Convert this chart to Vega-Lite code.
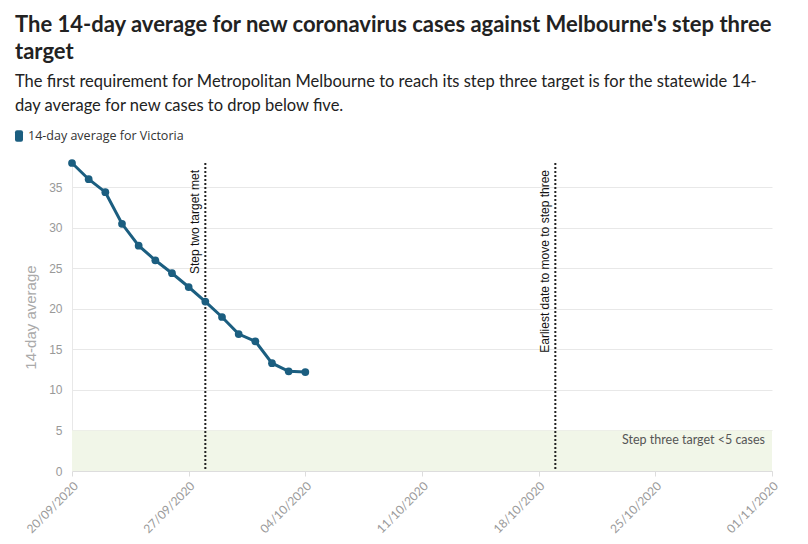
{
  "$schema": "https://vega.github.io/schema/vega-lite/v6.json",
  "width": 700,
  "height": 308,
  "autosize": {"type": "none"},
  "padding": {"left": 72, "top": 163, "right": 36, "bottom": 73},
  "background": "white",
  "config": {"view": {"stroke": null}},
  "title": {
    "text": ["The 14-day average for new coronavirus cases against Melbourne's step three", "target"],
    "subtitle": ["The first requirement for Metropolitan Melbourne to reach its step three target is for the statewide 14-", "day average for new cases to drop below five."],
    "anchor": "start",
    "frame": "group",
    "dx": -57,
    "font": "Lato",
    "fontSize": 22,
    "fontWeight": "bold",
    "color": "#222222",
    "lineHeight": 27,
    "subtitleFont": "Lato",
    "subtitleFontSize": 16.5,
    "subtitleColor": "#222222",
    "subtitleLineHeight": 23.5,
    "subtitlePadding": 10,
    "offset": 14
  },
  "datasets": {
    "series": [
      {"date": "2020-09-20", "value": 38.0, "series": "14-day average for Victoria"},
      {"date": "2020-09-21", "value": 36.0, "series": "14-day average for Victoria"},
      {"date": "2020-09-22", "value": 34.4, "series": "14-day average for Victoria"},
      {"date": "2020-09-23", "value": 30.5, "series": "14-day average for Victoria"},
      {"date": "2020-09-24", "value": 27.8, "series": "14-day average for Victoria"},
      {"date": "2020-09-25", "value": 26.0, "series": "14-day average for Victoria"},
      {"date": "2020-09-26", "value": 24.4, "series": "14-day average for Victoria"},
      {"date": "2020-09-27", "value": 22.7, "series": "14-day average for Victoria"},
      {"date": "2020-09-28", "value": 20.9, "series": "14-day average for Victoria"},
      {"date": "2020-09-29", "value": 19.0, "series": "14-day average for Victoria"},
      {"date": "2020-09-30", "value": 16.9, "series": "14-day average for Victoria"},
      {"date": "2020-10-01", "value": 16.0, "series": "14-day average for Victoria"},
      {"date": "2020-10-02", "value": 13.3, "series": "14-day average for Victoria"},
      {"date": "2020-10-03", "value": 12.3, "series": "14-day average for Victoria"},
      {"date": "2020-10-04", "value": 12.2, "series": "14-day average for Victoria"}
    ],
    "events": [
      {"date": "2020-09-28", "label": "Step two target met"},
      {"date": "2020-10-19", "label": "Earliest date to move to step three"}
    ],
    "band": [
      {"lo": 0, "hi": 5, "date": "2020-11-01", "labelY": 3.8, "label": "Step three target <5 cases"}
    ]
  },
  "layer": [
    {
      "data": {"name": "band"},
      "mark": {"type": "rect", "color": "#f1f6e8"},
      "encoding": {
        "y": {"field": "lo", "type": "quantitative"},
        "y2": {"field": "hi"}
      }
    },
    {
      "data": {"name": "series"},
      "mark": {"type": "line", "color": "#1b5e80", "strokeWidth": 3},
      "encoding": {
        "x": {
          "field": "date",
          "type": "temporal",
          "scale": {"type": "utc", "domain": [{"year": 2020, "month": 9, "date": 20, "utc": true}, {"year": 2020, "month": 11, "date": 1, "utc": true}]},
          "axis": {
            "title": null,
            "values": [
              {"year": 2020, "month": 9, "date": 20, "utc": true},
              {"year": 2020, "month": 9, "date": 27, "utc": true},
              {"year": 2020, "month": 10, "date": 4, "utc": true},
              {"year": 2020, "month": 10, "date": 11, "utc": true},
              {"year": 2020, "month": 10, "date": 18, "utc": true},
              {"year": 2020, "month": 10, "date": 25, "utc": true},
              {"year": 2020, "month": 11, "date": 1, "utc": true}
            ],
            "format": "%d/%m/%Y",
            "labelAngle": -45,
            "labelFont": "Lato",
            "labelFontSize": 12,
            "labelColor": "#9a9a9a",
            "labelPadding": 4,
            "grid": false,
            "domainColor": "#dddddd",
            "tickColor": "#dddddd",
            "tickSize": 5,
            "labelFlush": false,
            "labelOverlap": false
          }
        },
        "y": {
          "field": "value",
          "type": "quantitative",
          "scale": {"domain": [0, 38], "nice": false},
          "axis": {
            "title": "14-day average",
            "titleFont": "Liberation Sans",
            "titleFontSize": 15,
            "titleFontWeight": "normal",
            "titleColor": "#aaaaaa",
            "titlePadding": 10,
            "values": [0, 5, 10, 15, 20, 25, 30, 35],
            "labelFont": "Liberation Sans",
            "labelFontSize": 12,
            "labelColor": "#999999",
            "labelPadding": 10,
            "ticks": false,
            "gridColor": "#e8e8e8",
            "domainColor": "#e8e8e8"
          }
        }
      }
    },
    {
      "data": {"name": "events"},
      "mark": {"type": "rule", "color": "#222222", "strokeWidth": 2, "strokeDash": [2, 2]},
      "encoding": {
        "x": {"field": "date", "type": "temporal"}
      }
    },
    {
      "data": {"name": "events"},
      "mark": {"type": "text", "angle": -90, "align": "right", "baseline": "bottom", "dx": -7, "dy": -3, "font": "Liberation Sans", "fontSize": 12, "color": "#111111"},
      "encoding": {
        "x": {"field": "date", "type": "temporal"},
        "y": {"datum": 38},
        "text": {"field": "label"}
      }
    },
    {
      "data": {"name": "series"},
      "mark": {"type": "point", "filled": true, "size": 60, "opacity": 1},
      "encoding": {
        "x": {"field": "date", "type": "temporal"},
        "y": {"field": "value", "type": "quantitative"},
        "color": {
          "field": "series",
          "type": "nominal",
          "scale": {"range": ["#1b5e80"]},
          "legend": {
            "title": null,
            "orient": "none",
            "legendX": -60,
            "legendY": -34,
            "symbolType": "M-0.3,-0.85 L0.3,-0.85 Q0.6,-0.85 0.6,-0.55 L0.6,0.55 Q0.6,0.85 0.3,0.85 L-0.3,0.85 Q-0.6,0.85 -0.6,0.55 L-0.6,-0.55 Q-0.6,-0.85 -0.3,-0.85 Z",
            "symbolSize": 178,
            "symbolFillColor": "#1b5e80",
            "symbolStrokeWidth": 0,
            "symbolOpacity": 1,
            "labelFont": "Open Sans",
            "labelFontSize": 12.5,
            "labelColor": "#333333",
            "labelOffset": 2
          }
        }
      }
    },
    {
      "data": {"name": "band"},
      "mark": {"type": "text", "align": "right", "baseline": "middle", "dx": -7, "font": "Lato", "fontSize": 12.5, "color": "#555555"},
      "encoding": {
        "x": {"field": "date", "type": "temporal"},
        "y": {"field": "labelY", "type": "quantitative"},
        "text": {"field": "label"}
      }
    }
  ]
}
